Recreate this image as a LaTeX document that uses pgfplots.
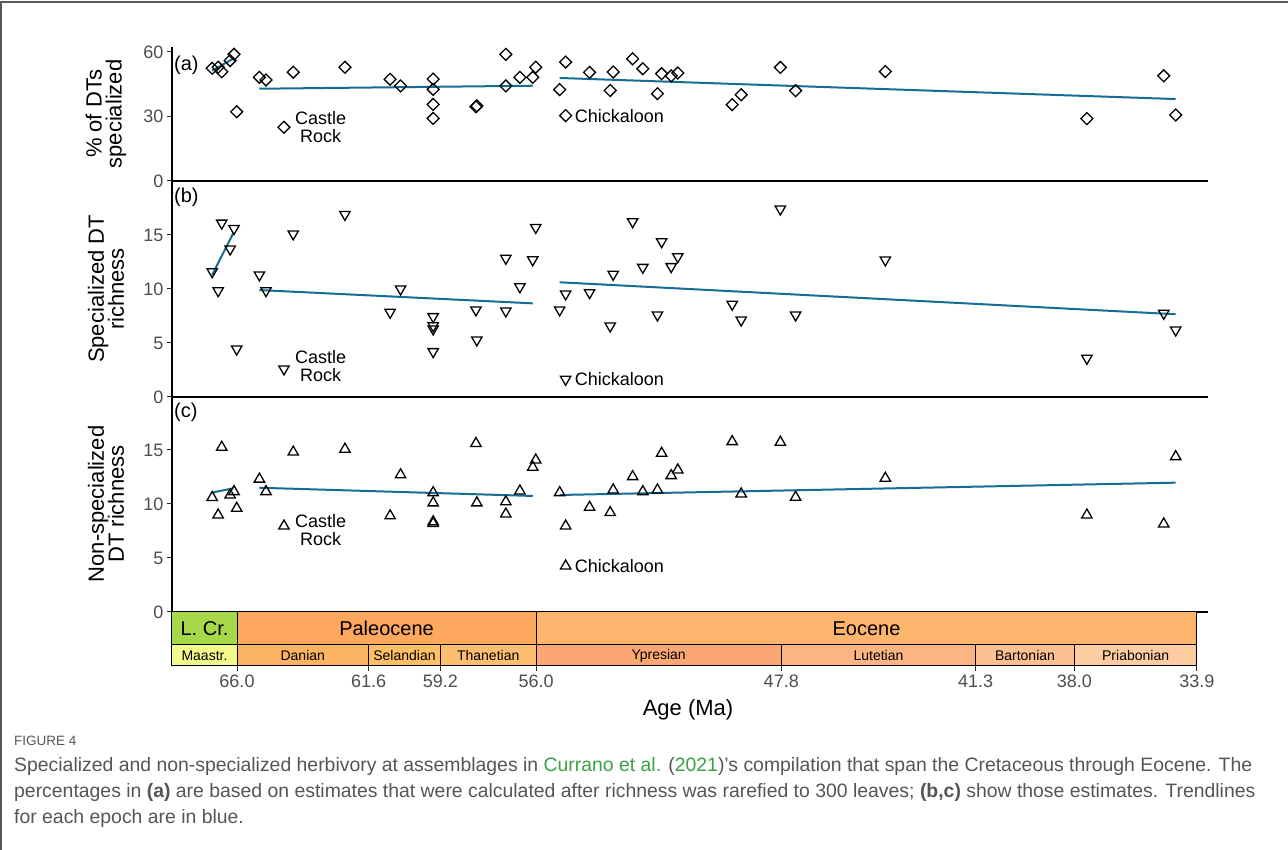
\documentclass[border=0pt]{standalone}
\usepackage{pgfplots}
\pgfplotsset{compat=1.18}
\usepackage{pgfplotstable}
\usepackage{fontspec}
\setmainfont{Liberation Sans}

\definecolor{trend}{RGB}{22,108,146}
\definecolor{tickgray}{RGB}{77,77,77}
\definecolor{lcr}{RGB}{166,216,74}
\definecolor{paleo}{RGB}{253,167,95}
\definecolor{eoc}{RGB}{253,180,108}
\definecolor{maas}{RGB}{242,250,140}
\definecolor{dan}{RGB}{253,180,98}
\definecolor{sel}{RGB}{254,191,101}
\definecolor{than}{RGB}{253,191,111}
\definecolor{ypr}{RGB}{252,167,115}
\definecolor{lut}{RGB}{252,180,130}
\definecolor{bart}{RGB}{253,192,145}
\definecolor{pria}{RGB}{253,205,161}
\definecolor{capgray}{RGB}{85,85,85}
\definecolor{capgreen}{RGB}{60,160,70}

\newcommand{\fs}[1]{\fontsize{#1}{#1}\selectfont}

% age (Ma), % of DTs specialized, specialized DT richness, non-specialized DT richness
\pgfplotstableread{
age   pct   spec   nonspec
66.83 52.4  11.6   10.6
66.63 52.9  9.84   8.98
66.51 50.8  16.1   15.25
66.23 56.0  13.7   10.83
66.10 58.9  15.6   11.14
66.01 32.2  4.44   9.6
65.25 48.2  11.3   12.3
65.03 47.0  9.84   11.14
64.43 25.0  2.6    7.96
64.12 50.6  15.1   14.8
62.39 52.9  16.9   15.07
60.88 47.3  7.84   8.9
60.53 44.2  10.0   12.7
59.44 47.4  7.44   11.05
59.44 42.6  6.6    10.1
59.44 35.6  6.3    8.35
59.44 29.1  4.2    8.2
58.01 34.5  8.06   15.6
57.98 34.9  5.28   10.1
57.01 58.9  12.84  10.2
57.01 44.2  7.96   9.07
56.54 48.2  10.2   11.2
56.11 48.2  12.7   13.4
56.01 52.9  15.7   14.07
55.21 42.5  8.06   11.05
55.01 55.3  9.54   7.96
55.01 30.4  1.64   4.26
54.21 50.5  9.66   9.69
53.52 42.1  6.57   9.2
53.42 50.7  11.36  11.3
52.77 56.8  16.23  12.53
52.43 52.2  12.0   11.14
51.94 40.6  7.59   11.3
51.80 49.9  14.38  14.69
51.48 48.9  12.07  12.62
51.26 50.2  12.99  13.15
49.44 35.5  8.58   15.77
49.14 40.1  7.13   10.93
47.83 52.8  17.4   15.71
47.32 42.0  7.59   10.62
44.32 50.9  12.69  12.38
37.58 29.0  3.58   8.98
35.01 48.9  7.75   8.15
34.61 30.7  6.2    14.38
}\sites

\pgfplotsset{
  panel/.style={
    scale only axis, width=1036pt, anchor=south west,
    x dir=reverse, xmin=33.53, xmax=68.174, ymin=0,
    axis x line*=bottom, axis y line*=left,
    axis line style={line width=1.3pt, black, -},
    xtick=\empty,
    tick align=outside, major tick length=5pt,
    tick style={line width=1pt, black!85},
    yticklabel style={font=\fs{18}, text=tickgray},
    /pgf/number format/assume math mode=true,
    clip=false,
  },
  trendline/.style={trend, line width=2pt},
  dmark/.style={only marks, mark=square, mark size=4.2pt,
    mark options={rotate=45, line width=1.3pt, draw=black, fill=none}},
  umark/.style={only marks, mark=triangle, mark size=6pt,
    mark options={line width=1.3pt, draw=black, fill=none}},
  vmark/.style={only marks, mark=triangle, mark size=6pt,
    mark options={rotate=180, line width=1.3pt, draw=black, fill=none}},
}

\begin{document}
\begin{tikzpicture}[x=1pt,y=1pt]
\fill[white] (0,0) rectangle (1288,850);
\useasboundingbox (0,0) rectangle (1288,850);
\draw[black!65, line width=1.5pt] (0,848) -- (1288,848);
\draw[black!65, line width=1.2pt] (1,0) -- (1,848);

% (a) share of damage types that are specialized
\begin{axis}[panel, at={(172pt,669pt)}, height=134.4pt, ymax=62.5, ytick={0,30,60}]
  \addplot[dmark] table[x=age, y=pct] {\sites};
  \addplot[trendline] coordinates {(66.83,51.3) (66.10,57.1)};
  \addplot[trendline] coordinates {(65.25,42.9) (56.11,44.3)};
  \addplot[trendline] coordinates {(55.21,47.9) (34.61,38.1)};
  \node[anchor=west, align=center, inner sep=0, font=\fs{18}] at (axis cs:64.43,25.0) [xshift=11pt] {Castle\\Rock};
  \node[anchor=west, inner sep=0, font=\fs{18}] at (axis cs:55.01,30.4) [xshift=9pt] {Chickaloon};
\end{axis}

% (b) specialized DT richness
\begin{axis}[panel, at={(172pt,453pt)}, height=216pt, ymax=20, ytick={0,5,10,15}]
  \addplot[vmark] table[x=age, y=spec] {\sites};
  \addplot[trendline] coordinates {(66.83,11.3) (66.12,15.2)};
  \addplot[trendline] coordinates {(65.25,9.9) (56.11,8.67)};
  \addplot[trendline] coordinates {(55.21,10.62) (34.61,7.66)};
  \node[anchor=west, align=center, inner sep=0, font=\fs{18}] at (axis cs:64.43,2.6) [xshift=11pt, yshift=3pt] {Castle\\Rock};
  \node[anchor=west, inner sep=0, font=\fs{18}] at (axis cs:55.01,1.64) [xshift=9pt] {Chickaloon};
\end{axis}

% (c) non-specialized DT richness
\begin{axis}[panel, at={(172pt,238pt)}, height=215pt, ymax=19.9, ytick={0,5,10,15}]
  \addplot[umark] table[x=age, y=nonspec] {\sites};
  \addplot[trendline] coordinates {(66.83,11.05) (66.12,11.45)};
  \addplot[trendline] coordinates {(65.25,11.5) (56.11,10.74)};
  \addplot[trendline] coordinates {(55.21,10.83) (34.61,11.97)};
  \node[anchor=west, align=center, inner sep=0, font=\fs{18}] at (axis cs:64.43,7.96) [xshift=11pt, yshift=-4pt] {Castle\\Rock};
  \node[anchor=west, inner sep=0, font=\fs{18}] at (axis cs:55.01,4.26) [xshift=9pt] {Chickaloon};
\end{axis}

% geological time scale
\begin{axis}[scale only axis, width=1036pt, height=54pt, at={(172pt,184pt)}, anchor=south west,
  x dir=reverse, xmin=33.53, xmax=68.174, ymin=0, ymax=54,
  axis y line=none, axis x line*=bottom, x axis line style={draw=none},
  xtick={66,61.6,59.2,56,47.8,41.3,38,33.9},
  xticklabels={66.0,61.6,59.2,56.0,47.8,41.3,38.0,33.9},
  tick align=outside, major tick length=5pt, tick style={line width=1pt, black!85},
  xticklabel style={font=\fs{18}, text=tickgray},
  clip=false]
  \filldraw[fill=lcr, draw=black, line width=1pt] (axis cs:68.174,21) rectangle (axis cs:66,54);
  \filldraw[fill=paleo, draw=black, line width=1pt] (axis cs:66,21) rectangle (axis cs:56,54);
  \filldraw[fill=eoc, draw=black, line width=1pt] (axis cs:56,21) rectangle (axis cs:33.9,54);
  \filldraw[fill=maas, draw=black, line width=1pt] (axis cs:68.174,0) rectangle (axis cs:66,21);
  \filldraw[fill=dan, draw=black, line width=1pt] (axis cs:66,0) rectangle (axis cs:61.6,21);
  \filldraw[fill=sel, draw=black, line width=1pt] (axis cs:61.6,0) rectangle (axis cs:59.2,21);
  \filldraw[fill=than, draw=black, line width=1pt] (axis cs:59.2,0) rectangle (axis cs:56,21);
  \filldraw[fill=ypr, draw=black, line width=1pt] (axis cs:56,0) rectangle (axis cs:47.8,21);
  \filldraw[fill=lut, draw=black, line width=1pt] (axis cs:47.8,0) rectangle (axis cs:41.3,21);
  \filldraw[fill=bart, draw=black, line width=1pt] (axis cs:41.3,0) rectangle (axis cs:38,21);
  \filldraw[fill=pria, draw=black, line width=1pt] (axis cs:38,0) rectangle (axis cs:33.9,21);
  \node[font=\fs{20}] at (axis cs:67.087,37.5) {L. Cr.};
  \node[font=\fs{20}] at (axis cs:61,37.5) {Paleocene};
  \node[font=\fs{20}] at (axis cs:44.95,37.5) {Eocene};
  \node[font=\fs{14}] at (axis cs:67.087,10.5) {Maastr.};
  \node[font=\fs{14}] at (axis cs:63.8,10.5) {Danian};
  \node[font=\fs{14}] at (axis cs:60.4,10.5) {Selandian};
  \node[font=\fs{14}] at (axis cs:57.6,10.5) {Thanetian};
  \node[font=\fs{14}] at (axis cs:51.9,10.5) {Ypresian};
  \node[font=\fs{14}] at (axis cs:44.55,10.5) {Lutetian};
  \node[font=\fs{14}] at (axis cs:39.65,10.5) {Bartonian};
  \node[font=\fs{14}] at (axis cs:35.95,10.5) {Priabonian};
\end{axis}

% axis titles and panel tags
\node[font=\fs{22}] at (688,140) {Age (Ma)};
\node[rotate=90, align=center, font=\fs{22}] at (106,736) {\% of DTs\\[-2pt]specialized};
\node[rotate=90, align=center, font=\fs{22}] at (106,561) {Specialized DT\\[-2pt]richness};
\node[rotate=90, align=center, font=\fs{22}] at (106,346) {Non-specialized\\[-2pt]DT richness};
\node[anchor=west, inner sep=0, font=\fs{20}] at (174,785) {(a)};
\node[anchor=west, inner sep=0, font=\fs{20}] at (174,653) {(b)};
\node[anchor=west, inner sep=0, font=\fs{20}] at (174,438) {(c)};

% caption
\node[anchor=base west, inner sep=0, font=\fs{13.5}, text=capgray] at (14,104) {FIGURE 4};
\node[anchor=base west, inner sep=0, font=\fs{19.4}, text=capgray] at (14,78) {Specialized and non-specialized herbivory at assemblages in \textcolor{capgreen}{Currano et al.} (\textcolor{capgreen}{2021})'s compilation that span the Cretaceous through Eocene. The};
\node[anchor=base west, inner sep=0, font=\fs{19.4}, text=capgray] at (14,52) {percentages in \textbf{(a)} are based on estimates that were calculated after richness was rarefied to 300 leaves; \textbf{(b,c)} show those estimates. Trendlines};
\node[anchor=base west, inner sep=0, font=\fs{19.4}, text=capgray] at (14,26) {for each epoch are in blue.};
\end{tikzpicture}
\end{document}
